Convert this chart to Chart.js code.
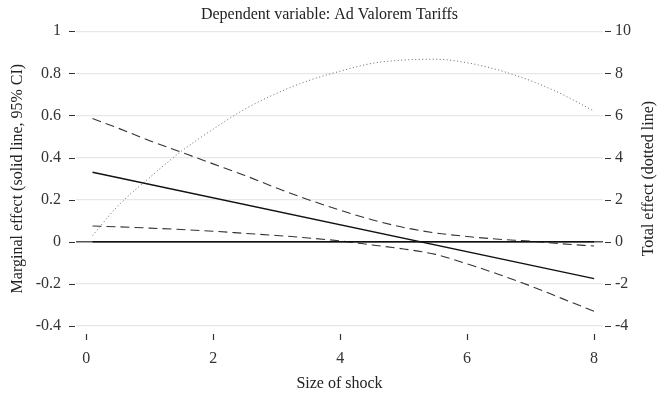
<!DOCTYPE html>
<html>
<head>
<meta charset="utf-8">
<script src="https://cdn.jsdelivr.net/npm/chart.js@4"></script>
<style>
  body { margin: 0; background: #fff; }
  #wrap { width: 659px; height: 395px; }
</style>
</head>
<body>
<div id="wrap"><canvas id="shockChart"></canvas></div>
<script>
// values
const shockSize = [0.1, 0.5, 1, 1.5, 2, 2.5, 3, 3.5, 4, 4.5, 5, 5.5, 6, 6.5, 7, 7.5, 8];
const marginalX = [0.1, 8];
const marginalEffect = [0.33, -0.175];
const upperCI = [0.585, 0.54, 0.48, 0.425, 0.37, 0.315, 0.255, 0.2, 0.15, 0.105, 0.068, 0.042, 0.025, 0.012, 0.003, -0.01, -0.02];
const lowerCI = [0.075, 0.071, 0.065, 0.058, 0.05, 0.04, 0.03, 0.018, 0.004, -0.015, -0.034, -0.06, -0.105, -0.155, -0.21, -0.27, -0.33];
const totalEffect = [0.3, 1.7, 3.05, 4.3, 5.35, 6.3, 7.05, 7.65, 8.1, 8.47, 8.63, 8.67, 8.5, 8.15, 7.65, 7.0, 6.2];
const zeroX = [0.1, 8];
const zeroY = [0, 0];

const xTicks = [0, 2, 4, 6, 8];
const leftTicks = [-0.4, -0.2, 0, 0.2, 0.4, 0.6, 0.8, 1];
const rightTicks = [-4, -2, 0, 2, 4, 6, 8, 10];

const FONT = "'Liberation Serif', 'Times New Roman', serif";

function pts(xs, ys) {
  return xs.map((x, i) => ({ x: x, y: ys[i] }));
}

// short tick marks a little away from the plot, plus the right title (reads upward)
const tickMarks = {
  id: 'tickMarks',
  afterDraw(chart) {
    const { ctx, chartArea, scales } = chart;
    ctx.save();
    ctx.strokeStyle = '#333';
    ctx.lineWidth = 1.2;
    ctx.beginPath();
    xTicks.forEach(v => {
      const px = Math.round(scales.x.getPixelForValue(v)) + 0.5;
      ctx.moveTo(px, chartArea.bottom + 8);
      ctx.lineTo(px, chartArea.bottom + 14);
    });
    leftTicks.forEach(v => {
      const py = Math.round(scales.y.getPixelForValue(v)) + 0.5;
      ctx.moveTo(chartArea.left - 7, py);
      ctx.lineTo(chartArea.left - 1, py);
    });
    rightTicks.forEach(v => {
      const py = Math.round(scales.y2.getPixelForValue(v)) + 0.5;
      ctx.moveTo(chartArea.right + 2, py);
      ctx.lineTo(chartArea.right + 8, py);
    });
    ctx.stroke();

    ctx.fillStyle = '#222';
    ctx.font = '16px ' + FONT;
    ctx.textAlign = 'center';
    ctx.textBaseline = 'middle';
    ctx.translate(649, (chartArea.top + chartArea.bottom) / 2);
    ctx.rotate(-Math.PI / 2);
    ctx.fillText('Total effect (dotted line)', 0, 0);
    ctx.restore();
  }
};

const ctx = document.getElementById('shockChart').getContext('2d');
const chart = new Chart(ctx, {
  type: 'line',
  data: {
    datasets: [
      {
        label: 'zero',
        data: pts(zeroX, zeroY),
        yAxisID: 'y',
        borderColor: '#111',
        borderWidth: 1.6,
        pointRadius: 0
      },
      {
        label: 'Marginal effect',
        data: pts(marginalX, marginalEffect),
        yAxisID: 'y',
        borderColor: '#111',
        borderWidth: 1.4,
        pointRadius: 0
      },
      {
        label: 'Upper 95% CI',
        data: pts(shockSize, upperCI),
        yAxisID: 'y',
        borderColor: '#333',
        borderWidth: 1.1,
        borderDash: [9, 5],
        pointRadius: 0,
        cubicInterpolationMode: 'monotone'
      },
      {
        label: 'Lower 95% CI',
        data: pts(shockSize, lowerCI),
        yAxisID: 'y',
        borderColor: '#333',
        borderWidth: 1.1,
        borderDash: [9, 5],
        pointRadius: 0,
        cubicInterpolationMode: 'monotone'
      },
      {
        label: 'Total effect',
        data: pts(shockSize, totalEffect),
        yAxisID: 'y2',
        borderColor: '#666',
        borderWidth: 1,
        borderDash: [1, 2.5],
        pointRadius: 0,
        cubicInterpolationMode: 'monotone'
      }
    ]
  },
  options: {
    responsive: true,
    maintainAspectRatio: false,
    animation: false,
    layout: { padding: 0 },
    plugins: {
      legend: { display: false },
      tooltip: { enabled: false },
      title: {
        display: true,
        text: 'Dependent variable: Ad Valorem Tariffs',
        color: '#222',
        font: { family: FONT, size: 16, weight: 'normal' },
        padding: { top: 5, bottom: 7 }
      }
    },
    scales: {
      x: {
        type: 'linear',
        min: -0.16,
        max: 8.14,
        afterBuildTicks: s => { s.ticks = xTicks.map(v => ({ value: v })); },
        afterFit: s => { s.height = 69; },
        grid: { display: false },
        border: { display: false },
        ticks: {
          color: '#333',
          padding: 15,
          font: { family: FONT, size: 16 }
        },
        title: {
          display: true,
          text: 'Size of shock',
          color: '#222',
          font: { family: FONT, size: 16 },
          padding: { top: 4, bottom: 2 }
        }
      },
      y: {
        position: 'left',
        min: -0.4,
        max: 1,
        afterBuildTicks: s => { s.ticks = leftTicks.map(v => ({ value: v })); },
        afterFit: s => { s.width = 76; },
        border: { display: false },
        grid: {
          drawTicks: false,
          color: c => c.tick && c.tick.value === 0 ? '#555' : '#e8e8e8',
          lineWidth: c => c.tick && c.tick.value === 0 ? 1.6 : 1.2
        },
        ticks: {
          color: '#333',
          padding: 15,
          font: { family: FONT, size: 16 },
          callback: v => String(Math.round(v * 10) / 10)
        },
        title: {
          display: true,
          text: 'Marginal effect (solid line, 95% CI)',
          color: '#222',
          font: { family: FONT, size: 16 },
          padding: { top: 8, bottom: 0 }
        }
      },
      y2: {
        position: 'right',
        min: -4,
        max: 10,
        afterBuildTicks: s => { s.ticks = rightTicks.map(v => ({ value: v })); },
        afterFit: s => { s.width = 56; },
        border: { display: false },
        grid: { drawOnChartArea: false, drawTicks: false },
        ticks: {
          color: '#333',
          padding: 12,
          font: { family: FONT, size: 16 }
        }
      }
    }
  },
  plugins: [tickMarks]
});
</script>
</body>
</html>
